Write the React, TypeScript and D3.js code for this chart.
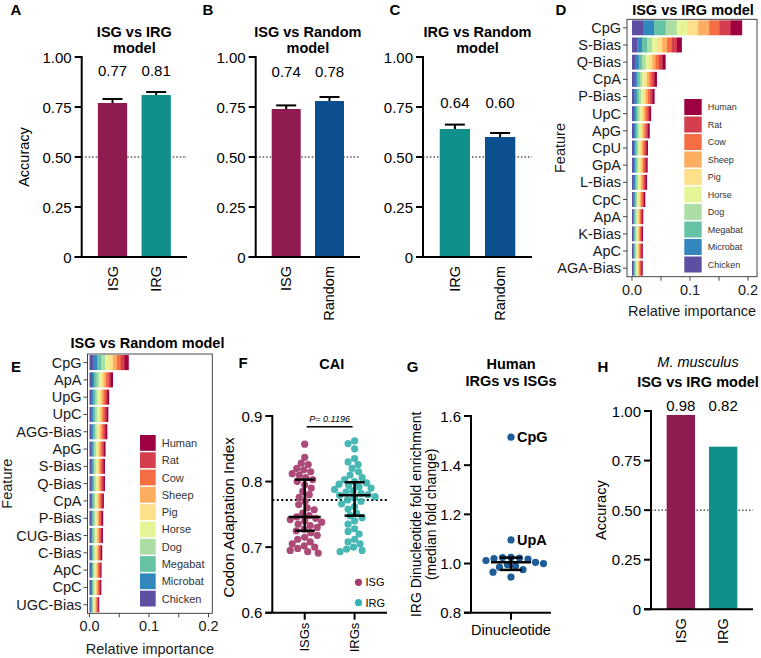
import * as d3 from "d3"
import { useEffect, useRef } from "react"

const FONT = "'Liberation Sans', Arial, Helvetica, sans-serif"

// ---------- accuracy bar panels (A, B, C, H) ----------
const accTicks = [0, 0.25, 0.5, 0.75, 1]
const accTickLabels = ["0", "0.25", "0.50", "0.75", "1.00"]

const catsA = ["ISG", "IRG"]
const accA = [0.77, 0.81]
const errA = [0.02, 0.015]

const catsB = ["ISG", "Random"]
const accB = [0.74, 0.78]
const errB = [0.018, 0.02]

const catsC = ["IRG", "Random"]
const accC = [0.64, 0.6]
const errC = [0.022, 0.02]

const catsH = ["ISG", "IRG"]
const accH = [0.98, 0.82]

const groupColor: Record<string, string> = { ISG: "#901b51", IRG: "#11908b", Random: "#0b4f8f" }

// ---------- feature importance panels (D, E) ----------
const species = ["Human", "Rat", "Cow", "Sheep", "Pig", "Horse", "Dog", "Megabat", "Microbat", "Chicken"]

const featuresD = ["CpG", "S-Bias", "Q-Bias", "CpA", "P-Bias", "UpC", "ApG", "CpU", "GpA", "L-Bias", "CpC", "ApA", "K-Bias", "ApC", "AGA-Bias"]
const dChicken = [0.019, 0.009, 0.006, 0.0045, 0.004, 0.0033, 0.0031, 0.0028, 0.0027, 0.0026, 0.0023, 0.002, 0.0019, 0.0019, 0.0018]
const dMicrobat = [0.019, 0.0085, 0.0058, 0.0043, 0.0039, 0.0033, 0.003, 0.0027, 0.0027, 0.0026, 0.0023, 0.0019, 0.0019, 0.0018, 0.0019]
const dMegabat = [0.02, 0.0088, 0.0057, 0.0044, 0.0038, 0.0032, 0.0031, 0.0028, 0.0026, 0.0026, 0.0022, 0.002, 0.0019, 0.0019, 0.0018]
const dDog = [0.019, 0.0084, 0.0059, 0.0042, 0.0039, 0.0034, 0.003, 0.0027, 0.0027, 0.0025, 0.0023, 0.0019, 0.0019, 0.0018, 0.0019]
const dHorse = [0.018, 0.0086, 0.0058, 0.0043, 0.0039, 0.0033, 0.0031, 0.0028, 0.0027, 0.0026, 0.0023, 0.002, 0.0019, 0.0019, 0.0018]
const dPig = [0.019, 0.0087, 0.0057, 0.0043, 0.004, 0.0033, 0.003, 0.0027, 0.0028, 0.0026, 0.0024, 0.0019, 0.0019, 0.0018, 0.0019]
const dSheep = [0.019, 0.0085, 0.0058, 0.0044, 0.0039, 0.0032, 0.0031, 0.0028, 0.0027, 0.0026, 0.0023, 0.002, 0.0019, 0.0019, 0.0018]
const dCow = [0.018, 0.0083, 0.0059, 0.0042, 0.0038, 0.0034, 0.003, 0.0027, 0.0027, 0.0027, 0.0023, 0.0019, 0.0019, 0.0019, 0.0019]
const dRat = [0.019, 0.0086, 0.0058, 0.0043, 0.0039, 0.0033, 0.0031, 0.0028, 0.0027, 0.0026, 0.0023, 0.002, 0.0019, 0.0019, 0.0018]
const dHuman = [0.02, 0.0086, 0.0056, 0.0041, 0.0039, 0.0033, 0.0031, 0.0028, 0.0027, 0.0026, 0.0023, 0.0019, 0.0019, 0.0018, 0.0019]

const featuresE = ["CpG", "ApA", "UpG", "UpC", "AGG-Bias", "ApG", "S-Bias", "Q-Bias", "CpA", "P-Bias", "CUG-Bias", "C-Bias", "ApC", "CpC", "UGC-Bias"]
const eChicken = [0.0066, 0.004, 0.0033, 0.0032, 0.003, 0.0027, 0.0026, 0.0026, 0.0024, 0.0023, 0.0022, 0.0021, 0.002, 0.002, 0.0016]
const eMicrobat = [0.0064, 0.0039, 0.0033, 0.0031, 0.003, 0.0027, 0.0026, 0.0026, 0.0024, 0.0023, 0.0023, 0.0022, 0.002, 0.002, 0.0017]
const eMegabat = [0.0065, 0.004, 0.0034, 0.0032, 0.003, 0.0027, 0.0026, 0.0026, 0.0025, 0.0023, 0.0023, 0.0021, 0.0021, 0.002, 0.0016]
const eDog = [0.0066, 0.0039, 0.0033, 0.0031, 0.0029, 0.0027, 0.0026, 0.0026, 0.0024, 0.0023, 0.0022, 0.0022, 0.002, 0.002, 0.0016]
const eHorse = [0.0065, 0.004, 0.0033, 0.0032, 0.003, 0.0027, 0.0026, 0.0026, 0.0024, 0.0023, 0.0023, 0.0021, 0.002, 0.002, 0.0017]
const ePig = [0.0067, 0.0039, 0.0033, 0.0032, 0.003, 0.0027, 0.0026, 0.0026, 0.0025, 0.0023, 0.0022, 0.0022, 0.002, 0.002, 0.0016]
const eSheep = [0.0066, 0.004, 0.0033, 0.0031, 0.003, 0.0027, 0.0026, 0.0026, 0.0024, 0.0023, 0.0023, 0.0021, 0.0021, 0.002, 0.0016]
const eCow = [0.0065, 0.0039, 0.0032, 0.0032, 0.003, 0.0027, 0.0026, 0.0026, 0.0024, 0.0023, 0.0023, 0.0021, 0.002, 0.002, 0.0017]
const eRat = [0.0066, 0.004, 0.0033, 0.0032, 0.003, 0.0027, 0.0026, 0.0026, 0.0024, 0.0023, 0.0022, 0.0022, 0.002, 0.002, 0.0016]
const eHuman = [0.007, 0.0039, 0.0034, 0.0032, 0.0031, 0.0027, 0.0026, 0.0026, 0.0024, 0.0023, 0.0023, 0.0021, 0.0021, 0.002, 0.0017]

const impTicks = [0, 0.05, 0.1, 0.15, 0.2]
const impTickLabels = [0, 0.1, 0.2]

// ---------- CAI (F) ----------
const caiGroups = ["ISGs", "IRGs"]
const caiISG = [0.857, 0.837, 0.828, 0.826, 0.82, 0.818, 0.815, 0.812, 0.81, 0.806, 0.803, 0.8, 0.795, 0.79, 0.785, 0.78, 0.776, 0.77, 0.765, 0.76, 0.757, 0.752, 0.748, 0.746, 0.744, 0.742, 0.74, 0.738, 0.735, 0.733, 0.73, 0.727, 0.725, 0.722, 0.718, 0.715, 0.712, 0.708, 0.705, 0.702, 0.7, 0.698, 0.695, 0.693, 0.691]
const caiIRG = [0.862, 0.858, 0.85, 0.835, 0.83, 0.826, 0.82, 0.815, 0.81, 0.806, 0.803, 0.8, 0.798, 0.796, 0.794, 0.792, 0.79, 0.788, 0.786, 0.784, 0.782, 0.78, 0.779, 0.777, 0.775, 0.772, 0.77, 0.766, 0.762, 0.758, 0.752, 0.748, 0.745, 0.74, 0.735, 0.728, 0.724, 0.72, 0.712, 0.708, 0.705, 0.7, 0.697, 0.695, 0.693]
// [lower quartile, median, upper quartile]
const caiISGSummary = [0.725, 0.746, 0.803]
const caiIRGSummary = [0.748, 0.779, 0.799]
const caiRef = 0.772
const caiTicks = [0.6, 0.7, 0.8, 0.9]
const caiP = "P= 0.1196"

// ---------- dinucleotides (G) ----------
const dinucNames = ["CpG", "UpA", "ApA", "ApC", "ApG", "ApU", "CpA", "CpC", "CpU", "GpA", "GpC", "GpG", "GpU", "UpC", "UpG", "UpU"]
const dinucFold = [1.514, 1.096, 1.025, 1.024, 1.022, 1.02, 1.018, 1.012, 1.005, 1.0, 0.995, 0.99, 0.985, 0.975, 0.965, 0.945]
const dinucLabelled = ["CpG", "UpA"]
// [lower, mean, upper]
const dinucSummary = [0.974, 1.005, 1.024]
const dinucTicks = [0.8, 1.0, 1.2, 1.4, 1.6]

function txt(g: any, x: number, y: number, s: string, size: number, opts: any = {}) {
  const t = g.append("text").attr("x", x).attr("y", y).text(s)
    .attr("font-size", size).attr("fill", opts.fill || "#000")
    .attr("text-anchor", opts.anchor || "middle")
  if (opts.bold) t.attr("font-weight", "bold")
  if (opts.italic) t.attr("font-style", "italic")
  if (opts.rotate) t.attr("transform", `rotate(-90,${x},${y})`)
  if (opts.central) t.attr("dominant-baseline", "central")
  return t
}

function prismYAxis(g: any, y: any, x0: number, ticks: number[], labels: string[], size = 15) {
  const [lo, hi] = y.range()
  g.append("line").attr("x1", x0).attr("x2", x0).attr("y1", lo).attr("y2", hi - 1)
    .attr("stroke", "#000").attr("stroke-width", 2)
  ticks.forEach((t, i) => {
    g.append("line").attr("x1", x0 - 7).attr("x2", x0).attr("y1", y(t)).attr("y2", y(t))
      .attr("stroke", "#000").attr("stroke-width", 2)
    txt(g, x0 - 10, y(t), labels[i], size, { anchor: "end", central: true })
  })
}

function accuracyPanel(svg: any, o: any) {
  const g = svg.append("g")
  const y = d3.scaleLinear().domain([0, 1]).range([o.yBot, o.yTop])
  const x = d3.scaleBand().domain(o.cats).range([o.x0, o.x1]).paddingInner(0.33).paddingOuter(0.37)
  const cx = (c: string) => (x(c) as number) + x.bandwidth() / 2

  g.append("line").attr("x1", o.x0).attr("x2", o.x1).attr("y1", y(0.5)).attr("y2", y(0.5))
    .attr("stroke", "#000").attr("stroke-width", 1).attr("stroke-dasharray", "1.5,2")

  g.selectAll("rect.bar").data(o.cats).join("rect")
    .attr("x", (c: string) => x(c)).attr("width", x.bandwidth())
    .attr("y", (_: any, i: number) => y(o.vals[i]))
    .attr("height", (_: any, i: number) => y(0) - y(o.vals[i]))
    .attr("fill", (c: string) => groupColor[c])

  if (o.errs) {
    o.cats.forEach((c: string, i: number) => {
      const top = y(o.vals[i] + o.errs[i])
      g.append("line").attr("x1", cx(c)).attr("x2", cx(c)).attr("y1", y(o.vals[i])).attr("y2", top)
        .attr("stroke", "#000").attr("stroke-width", 2)
      g.append("line").attr("x1", cx(c) - 10).attr("x2", cx(c) + 10).attr("y1", top).attr("y2", top)
        .attr("stroke", "#000").attr("stroke-width", 2)
    })
  }

  const topVal = d3.max(o.vals.map((v: number, i: number) => v + (o.errs ? o.errs[i] : 0))) as number
  o.cats.forEach((c: string, i: number) => {
    txt(g, cx(c), y(topVal) - o.labelGap, d3.format(".2f")(o.vals[i]), 15)
  })

  prismYAxis(g, y, o.x0, accTicks, accTickLabels)
  g.append("line").attr("x1", o.x0 - 7).attr("x2", o.x1).attr("y1", y(0)).attr("y2", y(0))
    .attr("stroke", "#000").attr("stroke-width", 2)
  o.cats.forEach((c: string) => txt(g, cx(c), y(0) + 9, c, 14.5, { anchor: "end", central: true, rotate: true }))

  const mid = (o.x0 + o.x1) / 2
  o.title.forEach((t: any, i: number) => txt(g, mid + (o.titleShift || 0), o.titleY[i], t.text, 14.5, { bold: !t.italic, italic: t.italic }))
  txt(g, o.letterX, o.letterY, o.letter, 15, { bold: true })
  if (o.yLabelX) txt(g, o.yLabelX, y(0.5), "Accuracy", 14.5, { rotate: true, central: true })
}

function importancePanel(svg: any, o: any) {
  const g = svg.append("g")
  const x = d3.scaleLinear().domain([0, 0.2]).range([o.xAt0, o.xAt02])
  const y = d3.scaleBand().domain(o.features).range([o.box.y0, o.box.y1]).paddingInner(0.13).paddingOuter(0.06)
  const color = d3.scaleOrdinal<string, string>().domain(species).range(d3.schemeSpectral[10])
  const stackKeys = species.slice().reverse()
  const table = o.features.map((f: string, i: number) => {
    const row: any = { feature: f }
    stackKeys.forEach((s) => (row[s] = o.data[s][i]))
    return row
  })
  const layers = d3.stack().keys(stackKeys)(table)
  layers.forEach((layer: any, li: number) => {
    g.selectAll(null).data(layer).join("rect")
      .attr("x", (d: any) => x(d[0]))
      .attr("width", (d: any) => x(d[1]) - x(d[0]) + (li < layers.length - 1 ? 0.4 : 0))
      .attr("y", (d: any) => y(d.data.feature))
      .attr("height", y.bandwidth())
      .attr("fill", color(layer.key))
  })
  const b = o.box
  g.append("rect").attr("x", b.x0).attr("y", b.y0).attr("width", b.x1 - b.x0).attr("height", b.y1 - b.y0)
    .attr("fill", "none").attr("stroke", "#333").attr("stroke-width", 0.9)

  o.features.forEach((f: string) => {
    const yy = (y(f) as number) + y.bandwidth() / 2
    g.append("line").attr("x1", b.x0 - 4).attr("x2", b.x0).attr("y1", yy).attr("y2", yy).attr("stroke", "#333").attr("stroke-width", 0.9)
    txt(g, b.x0 - 6, yy, f, 14.5, { anchor: "end", central: true, fill: "#1a1a1a" })
  })
  impTicks.forEach((t) => {
    g.append("line").attr("x1", x(t)).attr("x2", x(t)).attr("y1", b.y1).attr("y2", b.y1 + 4).attr("stroke", "#333").attr("stroke-width", 0.9)
  })
  impTickLabels.forEach((t) => txt(g, x(t), b.y1 + 18, d3.format(".1f")(t), 14.5, { fill: "#1a1a1a" }))
  txt(g, (b.x0 + b.x1) / 2, o.xLabelY, "Relative importance", 14.5, { fill: "#1a1a1a" })
  txt(g, o.featLabelX, (b.y0 + b.y1) / 2, "Feature", 14.5, { rotate: true, central: true, fill: "#1a1a1a" })

  const L = o.legend
  species.forEach((s, i) => {
    const yy = L.y0 + i * L.step
    g.append("rect").attr("x", L.x).attr("y", yy).attr("width", L.w).attr("height", L.step - 1.5).attr("fill", color(s))
    txt(g, L.x + L.w + 6, yy + (L.step - 1.5) / 2, s, L.font, { anchor: "start", central: true, fill: "#333" })
  })
  txt(g, o.titleX, o.titleY, o.title, 14.5, { bold: true })
  txt(g, o.letterX, o.letterY, o.letter, 15, { bold: true })
}

function beeswarm(vals: number[], y: any, cx: number, r: number, spread = 0.92) {
  const pts = vals.map((v, i) => ({ i, v, y: y(v), x: cx })).sort((a, b) => a.y - b.y)
  const placed: any[] = []
  const minD = 2 * r * spread
  pts.forEach((p) => {
    for (let k = 0; k < 400; k++) {
      const off = (k % 2 === 0 ? 1 : -1) * Math.ceil(k / 2) * 0.5
      const ok = placed.every((q) => (q.x - (cx + off)) ** 2 + (q.y - p.y) ** 2 >= minD * minD)
      if (ok) { p.x = cx + off; break }
    }
    placed.push(p)
  })
  return placed
}

function caiPanel(svg: any) {
  const g = svg.append("g")
  const ax = 272.3, xEnd = 387
  const y = d3.scaleLinear().domain([0.6, 0.9]).range([612.7, 416])
  const x = d3.scalePoint().domain(caiGroups).range([ax, xEnd]).padding(0.65)
  const cols = ["#a53c6c", "#37b2ae"]
  const sets = [caiISG, caiIRG]
  const sums = [caiISGSummary, caiIRGSummary]

  g.append("line").attr("x1", ax).attr("x2", xEnd).attr("y1", y(caiRef)).attr("y2", y(caiRef))
    .attr("stroke", "#000").attr("stroke-width", 2).attr("stroke-dasharray", "2,2.5")

  caiGroups.forEach((grp, gi) => {
    const cx = x(grp) as number
    beeswarm(sets[gi], y, cx, 3.6, 0.95).forEach((p) => {
      g.append("circle").attr("cx", p.x).attr("cy", p.y).attr("r", 3.6).attr("fill", cols[gi]).attr("fill-opacity", 0.92)
    })
  })
  caiGroups.forEach((grp, gi) => {
    const cx = x(grp) as number
    const [lo, med, hi] = sums[gi]
    const st = { stroke: "#000", w: 2.5 }
    g.append("line").attr("x1", cx).attr("x2", cx).attr("y1", y(lo)).attr("y2", y(hi)).attr("stroke", st.stroke).attr("stroke-width", st.w)
    g.append("line").attr("x1", cx - 16).attr("x2", cx + 16).attr("y1", y(med)).attr("y2", y(med)).attr("stroke", st.stroke).attr("stroke-width", st.w)
    ;[lo, hi].forEach((v) => g.append("line").attr("x1", cx - 10).attr("x2", cx + 10).attr("y1", y(v)).attr("y2", y(v)).attr("stroke", st.stroke).attr("stroke-width", st.w))
  })

  prismYAxis(g, y, ax, caiTicks, caiTicks.map((t) => d3.format(".1f")(t)))
  g.append("line").attr("x1", ax - 7).attr("x2", xEnd).attr("y1", y(0.6)).attr("y2", y(0.6)).attr("stroke", "#000").attr("stroke-width", 2)
  caiGroups.forEach((grp) => {
    const cx = x(grp) as number
    g.append("line").attr("x1", cx).attr("x2", cx).attr("y1", y(0.6)).attr("y2", y(0.6) + 7).attr("stroke", "#000").attr("stroke-width", 2)
    txt(g, cx, y(0.6) + 10, grp, 13, { anchor: "end", central: true, rotate: true })
  })

  // significance bar
  const x1 = x("ISGs") as number, x2 = x("IRGs") as number
  g.append("line").attr("x1", x1 + 2).attr("x2", x2 - 2).attr("y1", 426.7).attr("y2", 426.7).attr("stroke", "#000").attr("stroke-width", 1.5)
  txt(g, (x1 + x2) / 2, 422, caiP, 9, { italic: true })

  // legend
  ;["ISG", "IRG"].forEach((s, i) => {
    const yy = 582.3 + i * 20.4
    g.append("circle").attr("cx", 358.5).attr("cy", yy).attr("r", 3.6).attr("fill", cols[i])
    txt(g, 365.5, yy, s, 11, { anchor: "start", central: true })
  })

  txt(g, 228.3, (y(0.6) + y(0.9)) / 2 + 3, "Codon Adaptation Index", 15, { rotate: true, central: true })
  txt(g, 331.7, 369, "CAI", 14.5, { bold: true })
  txt(g, 243, 368, "F", 15, { bold: true })
}

function dinucPanel(svg: any) {
  const g = svg.append("g")
  const ax = 471, xEnd = 551, cx = 511
  const y = d3.scaleLinear().domain([0.8, 1.6]).range([612.7, 416])
  const col = "#1d5c97"
  beeswarm(dinucFold, y, cx, 3.6, 1.12).forEach((p) => {
    g.append("circle").attr("cx", p.x).attr("cy", p.y).attr("r", 3.6).attr("fill", col)
    const name = dinucNames[p.i]
    if (dinucLabelled.includes(name)) txt(g, p.x + 6, p.y, name, 14.5, { anchor: "start", central: true, bold: true })
  })
  const [lo, mean, hi] = dinucSummary
  g.append("line").attr("x1", cx).attr("x2", cx).attr("y1", y(lo)).attr("y2", y(hi)).attr("stroke", "#000").attr("stroke-width", 2.5)
  g.append("line").attr("x1", cx - 20).attr("x2", cx + 20).attr("y1", y(mean)).attr("y2", y(mean)).attr("stroke", "#000").attr("stroke-width", 2.5)
  ;[lo, hi].forEach((v) => g.append("line").attr("x1", cx - 11).attr("x2", cx + 11).attr("y1", y(v)).attr("y2", y(v)).attr("stroke", "#000").attr("stroke-width", 2.5))

  prismYAxis(g, y, ax, dinucTicks, dinucTicks.map((t) => d3.format(".1f")(t)))
  g.append("line").attr("x1", ax - 7).attr("x2", xEnd).attr("y1", y(0.8)).attr("y2", y(0.8)).attr("stroke", "#000").attr("stroke-width", 2)
  g.append("line").attr("x1", cx).attr("x2", cx).attr("y1", y(0.8)).attr("y2", y(0.8) + 7).attr("stroke", "#000").attr("stroke-width", 2)
  txt(g, cx, 635, "Dinucleotide", 14.5)
  txt(g, 416.5, y(1.2), "IRG Dinucleotide fold enrichment", 14, { rotate: true, central: true })
  txt(g, 431.5, y(1.2), "(median fold change)", 14, { rotate: true, central: true })
  txt(g, 511, 369, "Human", 14.5, { bold: true })
  txt(g, 511, 386, "IRGs vs ISGs", 14.5, { bold: true })
  txt(g, 412.7, 372, "G", 15, { bold: true })
}

export default function App() {
  const ref = useRef<SVGSVGElement>(null)
  useEffect(() => {
    const svg = d3.select(ref.current)
    svg.selectAll("*").remove()

    accuracyPanel(svg, {
      cats: catsA, vals: accA, errs: errA, x0: 81.7, x1: 187, yTop: 57, yBot: 257, labelGap: 16,
      title: [{ text: "ISG vs IRG" }, { text: "model" }], titleY: [37, 53],
      letter: "A", letterX: 16, letterY: 15, yLabelX: 24,
    })
    accuracyPanel(svg, {
      cats: catsB, vals: accB, errs: errB, x0: 255.7, x1: 360, yTop: 57, yBot: 257, labelGap: 20,
      title: [{ text: "ISG vs Random" }, { text: "model" }], titleY: [37, 53],
      letter: "B", letterX: 208, letterY: 15,
    })
    accuracyPanel(svg, {
      cats: catsC, vals: accC, errs: errC, x0: 423, x1: 532, yTop: 57, yBot: 257, labelGap: 17,
      title: [{ text: "IRG vs Random" }, { text: "model" }], titleY: [37, 53],
      letter: "C", letterX: 395, letterY: 15,
    })
    accuracyPanel(svg, {
      cats: catsH, vals: accH, x0: 651, x1: 753, yTop: 411, yBot: 609.3, labelGap: 4, titleShift: -4,
      title: [{ text: "M. musculus", italic: true }, { text: "ISG vs IRG model" }], titleY: [367, 387],
      letter: "H", letterX: 603, letterY: 372, yLabelX: 601,
    })

    importancePanel(svg, {
      features: featuresD,
      data: { Chicken: dChicken, Microbat: dMicrobat, Megabat: dMegabat, Dog: dDog, Horse: dHorse, Pig: dPig, Sheep: dSheep, Cow: dCow, Rat: dRat, Human: dHuman },
      box: { x0: 627, x1: 757, y0: 19.3, y1: 276.7 }, xAt0: 632, xAt02: 748,
      legend: { x: 684.3, y0: 99, step: 17.5, w: 17.4, font: 9 },
      xLabelY: 316, featLabelX: 560, title: "ISG vs IRG model", titleX: 693, titleY: 15,
      letter: "D", letterX: 561, letterY: 15,
    })
    importancePanel(svg, {
      features: featuresE,
      data: { Chicken: eChicken, Microbat: eMicrobat, Megabat: eMegabat, Dog: eDog, Horse: eHorse, Pig: ePig, Sheep: eSheep, Cow: eCow, Rat: eRat, Human: eHuman },
      box: { x0: 87.5, x1: 212.3, y0: 354, y1: 613.3 }, xAt0: 89.5, xAt02: 208.5,
      legend: { x: 140, y0: 435, step: 17.3, w: 15.7, font: 11 },
      xLabelY: 654, featLabelX: 7.5, title: "ISG vs Random model", titleX: 147.5, titleY: 348,
      letter: "E", letterX: 16, letterY: 372,
    })

    caiPanel(svg)
    dinucPanel(svg)
  }, [])

  return (
    <svg ref={ref} width={761} height={658} fontFamily={FONT}
      style={{ position: "absolute", left: 0, top: 0, background: "#fff" }} />
  )
}
